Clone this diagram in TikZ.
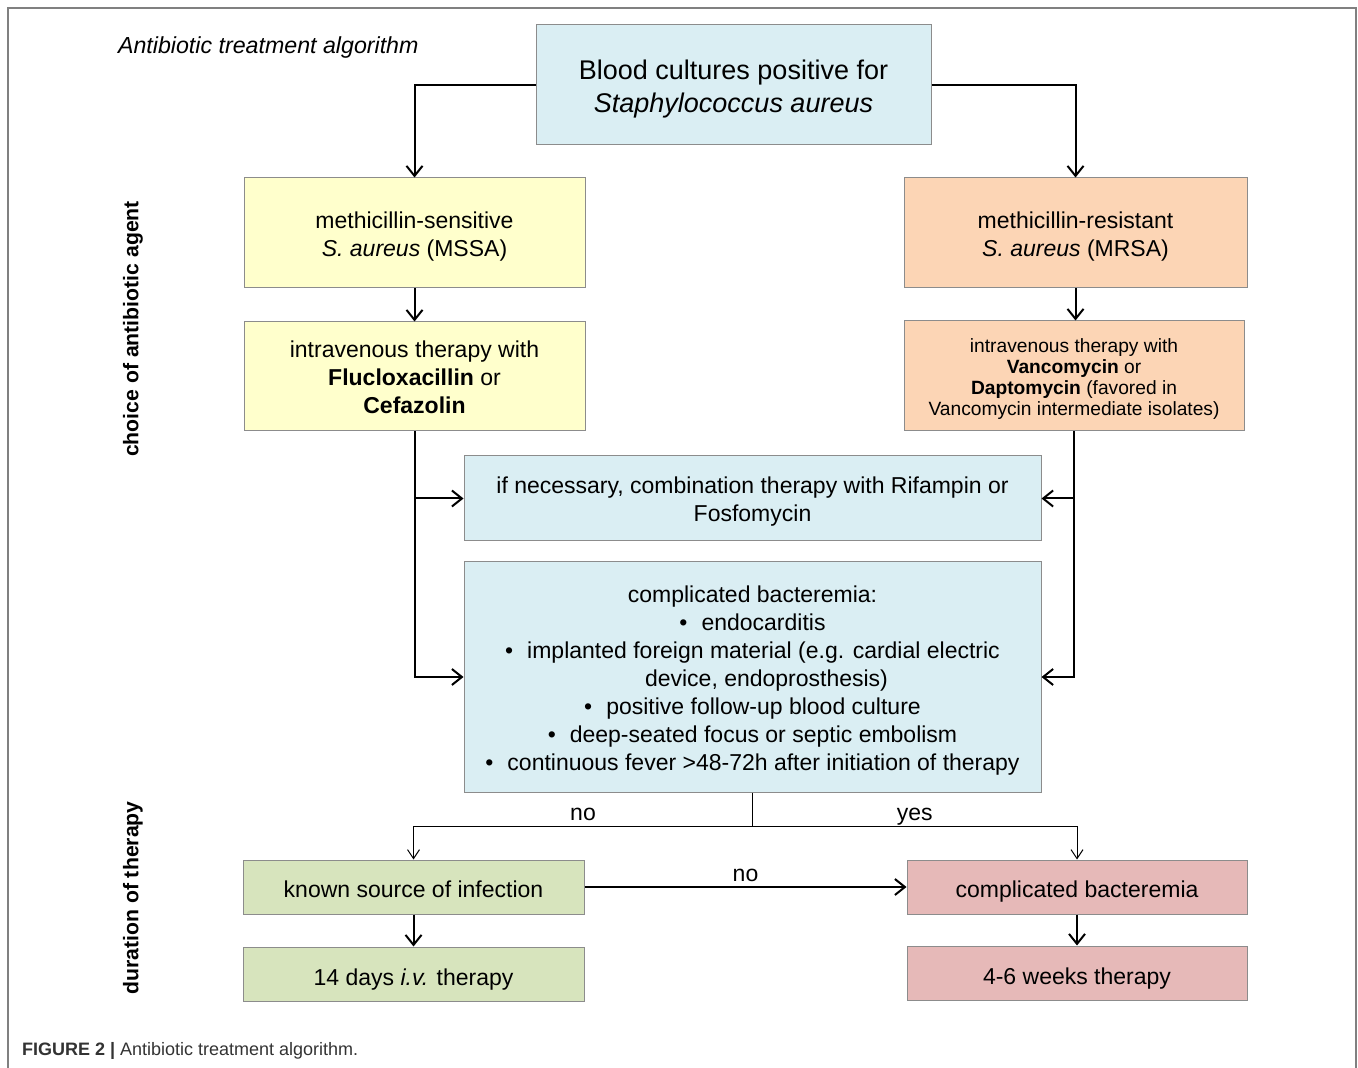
\documentclass[tikz,border=0pt]{standalone}
\usepackage{fontspec}
\setmainfont{Liberation Sans}
\usepackage{xcolor}
\usetikzlibrary{arrows.meta}
\definecolor{boxB}{HTML}{DAEEF3}
\definecolor{boxY}{HTML}{FFFFCC}
\definecolor{boxO}{HTML}{FCD5B5}
\definecolor{boxG}{HTML}{D7E4BD}
\definecolor{boxR}{HTML}{E6B9B8}
\definecolor{edgeC}{HTML}{8C8C8C}
\definecolor{frameC}{HTML}{808080}
\definecolor{capC}{HTML}{333333}
% line struts with Arial-like ascent/descent
\newcommand\lstrut{\rule[-0.212em]{0pt}{1.117em}}
\newcommand\bstrut{\rule[-0.212em]{0pt}{1.38em}}
\newcommand\fstrut{\rule{0pt}{1.02em}}

\begin{document}
\begin{tikzpicture}[x=0.5pt, y=-0.5pt,
   every node/.style={execute at begin node=\lstrut, execute at end node=\lstrut},
   box/.style={draw=edgeC, line width=0.5pt, align=center, inner sep=0pt,
               font=\fontsize{11.5}{14}\selectfont,
               execute at begin node=\bstrut, execute at end node=\bstrut},
   wide/.style={minimum width=170.5pt, minimum height=55pt},
   low/.style={minimum width=170.5pt, minimum height=27pt},
   link/.style={line width=1pt, -{Straight Barb[length=5pt, width=8pt]}},
   branch/.style={line width=0.5pt, -{Straight Barb[length=4.5pt, width=6pt]}},
   lab/.style={font=\fontsize{11.5}{14}\selectfont, inner sep=1pt, yshift=-1pt},
   side/.style={rotate=90, font=\fontsize{10.6}{13}\selectfont\bfseries}]
  \useasboundingbox (0,0) rectangle (1358,1068);
  % frame
  \draw[frameC, line width=1pt] (8,1068) -- (8,8) -- (1356,8) -- (1356,1068);
  \node[anchor=west, font=\fontsize{11.6}{14}\selectfont\itshape] (title) at (111,45)
    {Antibiotic treatment algorithm};
  % side labels
  \node[side] (choice) at (131,329) {choice of antibiotic agent};
  \node[side] (duration) at (131,898) {duration of therapy};
  % boxes: agent
  \node[box, fill=boxB, minimum width=197.5pt, minimum height=60pt,
        font=\fontsize{13.5}{16.5}\selectfont] (blood) at (733.5,85)
    {\fstrut Blood cultures positive for\\\textit{Staphylococcus aureus}};
  \node[box, wide, fill=boxY] (mssa) at (414.5,233) {\fstrut methicillin-sensitive\\\textit{S. aureus} (MSSA)};
  \node[box, wide, fill=boxO, minimum width=171.5pt] (mrsa) at (1075.5,233) {\fstrut methicillin-resistant\\\textit{S. aureus} (MRSA)};
  \node[box, wide, fill=boxY, minimum height=54.5pt] (ivmssa) at (414.5,376.5)
    {\fstrut intravenous therapy with\\\textbf{Flucloxacillin} or\\\textbf{Cefazolin}};
  \node[box, wide, fill=boxO, minimum width=170pt, font=\fontsize{9.6}{10.5}\selectfont] (ivmrsa) at (1074,376)
    {\fstrut intravenous therapy with\\\textbf{Vancomycin} or\\\textbf{Daptomycin} (favored in\\Vancomycin intermediate isolates)};
  \node[box, fill=boxB, minimum width=288.5pt, minimum height=42.5pt] (combo) at (752.5,498.5)
    {\fstrut if necessary, combination therapy with Rifampin or\\Fosfomycin};
  \node[box, fill=boxB, minimum width=288.5pt, minimum height=115pt] (compl) at (752.5,677)
    {\fstrut complicated bacteremia:\\
     •\hspace{7pt}endocarditis\\
     •\hspace{7pt}implanted foreign material (e.g. cardial electric\\
     \hspace*{14pt}device, endoprosthesis)\\
     •\hspace{7pt}positive follow-up blood culture\\
     •\hspace{7pt}deep-seated focus or septic embolism\\
     •\hspace{7pt}continuous fever >48-72h after initiation of therapy};
  % boxes: duration
  \node[box, low, fill=boxG] (known) at (413.5,887) {known source of infection};
  \node[box, low, fill=boxG] (days) at (413.5,974) {14 days \textit{i.v.} therapy};
  \node[box, low, fill=boxR, minimum width=170pt] (cbact) at (1077,887) {complicated bacteremia};
  \node[box, low, fill=boxR, minimum width=170pt] (weeks) at (1077,973) {4-6 weeks therapy};
  % connectors
  \draw[link] (blood.west) -| (mssa.north);
  \draw[link] (blood.east) -| (mrsa.north);
  \draw[link] (mssa) -- (ivmssa);
  \draw[link] (mrsa.south) -- (mrsa.south |- ivmrsa.north);
  \draw[link] (ivmssa.south) |- (combo.west);
  \draw[link] (ivmssa.south) |- (compl.west);
  \draw[link] (ivmrsa.south) |- (combo.east);
  \draw[link] (ivmrsa.south) |- (compl.east);
  \coordinate (fork) at (752.5,826);
  \draw[line width=0.8pt] (compl.south) -- (fork);
  \draw[branch] (fork) -| node[lab, pos=0.25, above] {no} (known.north);
  \draw[branch] (fork) -| node[lab, pos=0.25, above] {yes} (cbact.north);
  \draw[link] (known) -- node[lab, above] {no} (cbact);
  \draw[link] (known) -- (days);
  \draw[link] (cbact) -- (weeks);
  % caption
  \node[anchor=west, font=\fontsize{9}{11}\selectfont, text=capC] (caption) at (15,1049)
    {\textbf{FIGURE 2 |} Antibiotic treatment algorithm.};
\end{tikzpicture}
\end{document}
